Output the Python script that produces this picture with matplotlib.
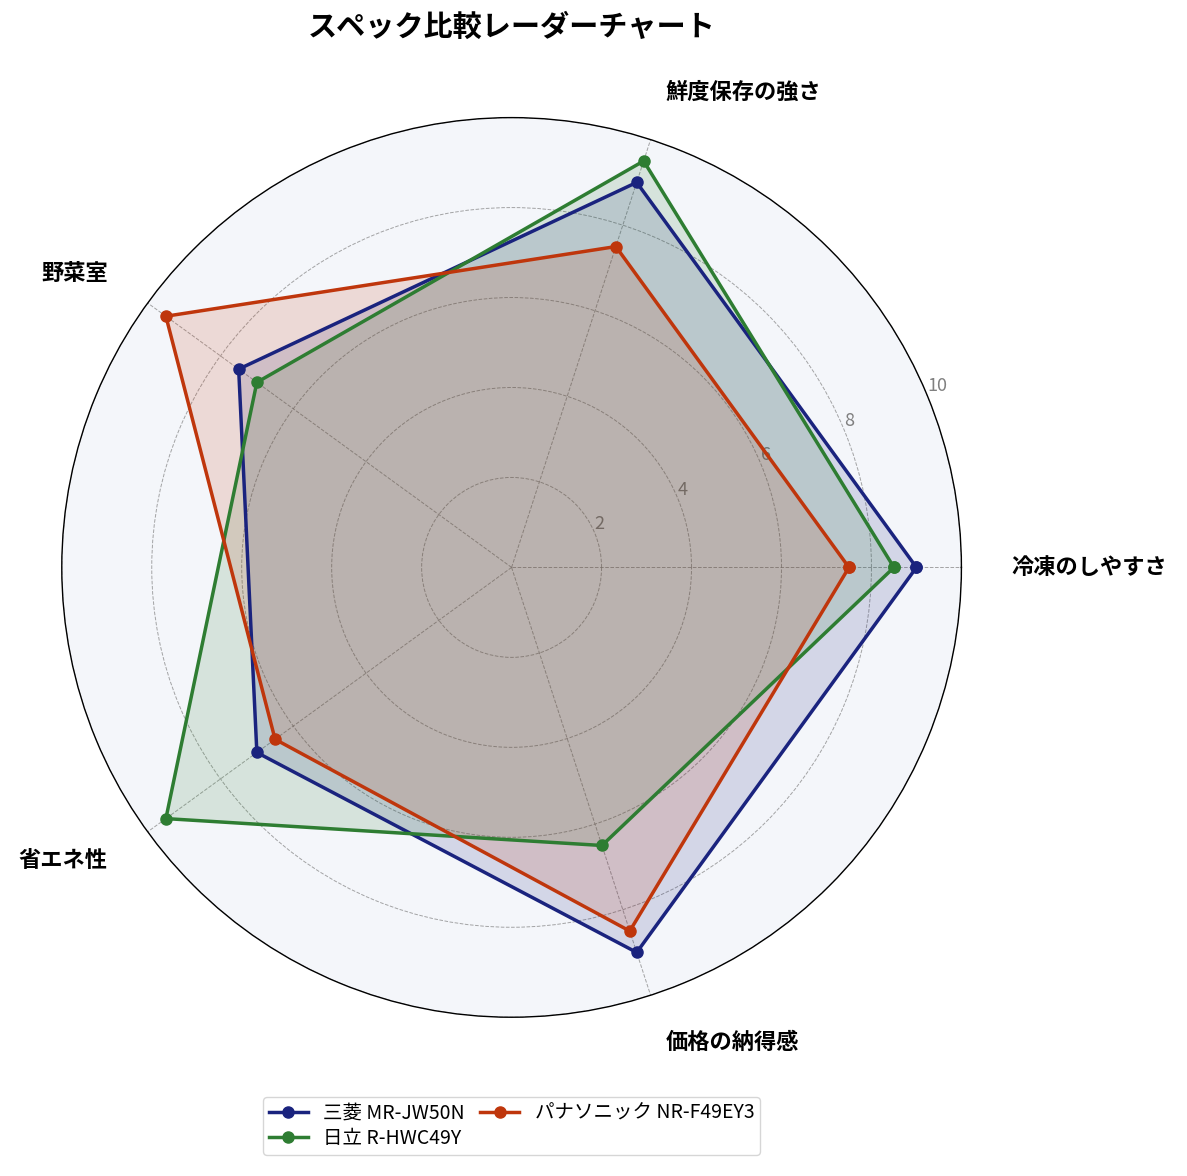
import numpy as np
import matplotlib
matplotlib.use('Agg')
import matplotlib.pyplot as plt

plt.rcParams['font.family'] = ['Noto Sans CJK JP', 'DejaVu Sans']

categories = ['冷凍のしやすさ', '鮮度保存の強さ', '野菜室', '省エネ性', '価格の納得感']
mitsubishi = [9.0, 9.0, 7.5, 7.0, 9.0]
hitachi = [8.5, 9.5, 7.0, 9.5, 6.5]
panasonic = [7.5, 7.5, 9.5, 6.5, 8.5]
series_names = ['三菱 MR-JW50N', '日立 R-HWC49Y', 'パナソニック NR-F49EY3']
colors = ['#1a237e', '#2e7d32', '#bf360c']

n = len(categories)
angles = np.linspace(0, 2 * np.pi, n, endpoint=False).tolist()
angles_closed = angles + angles[:1]

fig = plt.figure(figsize=(11.87, 11.76), dpi=100)
ax = fig.add_axes([0.052, 0.135, 0.758, 0.765], polar=True)
ax.set_facecolor('#f4f6fa')

for vals, name, c in zip([mitsubishi, hitachi, panasonic], series_names, colors):
    v = vals + vals[:1]
    ax.plot(angles_closed, v, color=c, linewidth=2.5, marker='o', markersize=8, label=name, zorder=3)
    ax.fill(angles_closed, v, color=c, alpha=0.15, zorder=2)

ax.set_ylim(0, 10)
ax.set_yticks([2, 4, 6, 8, 10])
ax.set_yticklabels(['2', '4', '6', '8', '10'], color='gray', fontsize=13)
ax.set_rlabel_position(22.5)
ax.set_xticks(angles)
ax.set_xticklabels([])
ax.grid(True, color='gray', linestyle='--', linewidth=0.7, alpha=0.7)
ax.spines['polar'].set_color('black')
ax.spines['polar'].set_linewidth(1.0)

# category labels, aligned away from the centre
for a, lab in zip(angles, categories):
    ha = 'left' if np.cos(a) > 0.01 else 'right'
    ax.text(a, 11.1, lab, ha=ha, va='center', fontsize=16, fontweight='bold')

fig.suptitle('スペック比較レーダーチャート', fontsize=21, fontweight='bold', x=0.431, y=0.99)
ax.legend(loc='upper center', bbox_to_anchor=(0.5, -0.078), ncol=2, fontsize=14,
          frameon=True, columnspacing=0.8, handlelength=2.0, borderpad=0.3, labelspacing=0.2)

plt.savefig('out.png', dpi=100)
